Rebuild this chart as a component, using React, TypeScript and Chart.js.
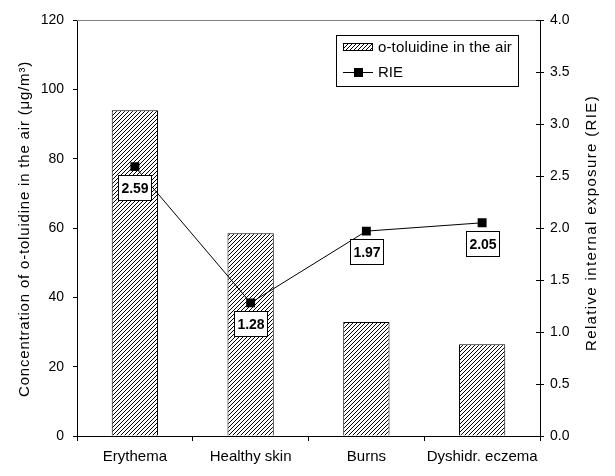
import React, { useEffect, useRef } from 'react';
import { Chart, registerables } from 'chart.js';

Chart.register(...registerables);

const categories = ['Erythema', 'Healthy skin', 'Burns', 'Dyshidr. eczema'];
const concentration = [94.0, 58.5, 32.9, 26.5];
const rie = [2.59, 1.28, 1.97, 2.05];
const rieLabels = ['2.59', '1.28', '1.97', '2.05'];
const barLabel = 'o-toluidine in the air';
const lineLabel = 'RIE';
const leftTitle = 'Concentration of o-toluidine in the air (\u03bcg/m\u00b3)';
const rightTitle = 'Relative internal exposure (RIE)';

const FONT = '"Liberation Sans", Arial, sans-serif';

function makeHatch(): CanvasPattern | string {
  const c = document.createElement('canvas');
  c.width = 4;
  c.height = 4;
  const g = c.getContext('2d');
  if (!g) return '#888';
  g.fillStyle = '#fff';
  g.fillRect(0, 0, 4, 4);
  g.fillStyle = '#000';
  for (let i = 0; i < 4; i++) g.fillRect(i, 3 - i, 1, 1);
  return g.createPattern(c, 'repeat') || '#888';
}

function fitText(ctx: any, text: string, x: number, y: number, target: number) {
  ctx.letterSpacing = '0px';
  const w = ctx.measureText(text).width;
  const ls = Math.max(0, (target - w) / text.length);
  ctx.letterSpacing = ls + 'px';
  ctx.fillText(text, x, y);
  ctx.letterSpacing = '0px';
}

export default function App() {
  const ref = useRef<HTMLCanvasElement | null>(null);

  useEffect(() => {
    if (!ref.current) return;
    const hatch = makeHatch();

    const decor = {
      id: 'decor',
      afterDatasetsDraw(chart: any) {
        const ctx = chart.ctx;
        const area = chart.chartArea;
        ctx.save();
        // top border (gray)
        ctx.strokeStyle = '#808080';
        ctx.lineWidth = 1;
        ctx.beginPath();
        ctx.moveTo(area.left, area.top + 0.5);
        ctx.lineTo(area.right, area.top + 0.5);
        ctx.stroke();

        // right axis inner ticks (cross ticks)
        const y1 = chart.scales.y1;
        ctx.strokeStyle = '#000';
        y1.ticks.forEach((t: any) => {
          const py = Math.round(y1.getPixelForValue(t.value)) + 0.5;
          ctx.beginPath();
          ctx.moveTo(area.right - 4, py);
          ctx.lineTo(area.right, py);
          ctx.stroke();
        });

        // value label boxes
        const meta = chart.getDatasetMeta(1);
        ctx.font = 'bold 14px ' + FONT;
        ctx.textAlign = 'center';
        ctx.textBaseline = 'middle';
        meta.data.forEach((pt: any, i: number) => {
          const w = 33;
          const h = 25;
          const bx = Math.round(pt.x - w / 2) + 0.5;
          const by = Math.round(pt.y + 8) + 0.5;
          ctx.fillStyle = '#fff';
          ctx.fillRect(bx, by, w, h);
          ctx.strokeStyle = '#000';
          ctx.strokeRect(bx, by, w, h);
          ctx.fillStyle = '#000';
          ctx.fillText(rieLabels[i], bx + w / 2, by + h / 2 + 1);
        });

        // legend
        const lx = 336.5, ly = 35.5, lw = 182, lh = 51;
        ctx.fillStyle = '#fff';
        ctx.fillRect(lx, ly, lw, lh);
        ctx.strokeStyle = '#000';
        ctx.strokeRect(lx, ly, lw, lh);
        ctx.fillStyle = hatch as any;
        ctx.fillRect(343, 43, 30, 8);
        ctx.strokeRect(343.5, 43.5, 29, 7);
        ctx.beginPath();
        ctx.moveTo(343, 72.5);
        ctx.lineTo(373, 72.5);
        ctx.stroke();
        ctx.fillStyle = '#000';
        ctx.fillRect(354, 68, 9, 9);
        ctx.font = '15px ' + FONT;
        ctx.textAlign = 'left';
        ctx.textBaseline = 'middle';
        fitText(ctx, barLabel, 378, 48, 134);
        fitText(ctx, lineLabel, 378, 73, 24);

        // axis titles
        ctx.textAlign = 'center';
        ctx.save();
        ctx.translate(25, 229);
        ctx.rotate(-Math.PI / 2);
        fitText(ctx, leftTitle, 0, 0, 336);
        ctx.restore();
        ctx.save();
        ctx.translate(592, 223);
        ctx.rotate(-Math.PI / 2);
        fitText(ctx, rightTitle, 0, 0, 256);
        ctx.restore();
        ctx.restore();
      },
    };

    const chart = new Chart(ref.current, {
      type: 'bar',
      data: {
        labels: categories,
        datasets: [
          {
            type: 'bar',
            label: barLabel,
            data: concentration,
            backgroundColor: hatch as any,
            borderColor: '#000',
            borderWidth: 1,
            barPercentage: 0.4,
            categoryPercentage: 1,
            yAxisID: 'y',
            order: 2,
          },
          {
            type: 'line',
            label: lineLabel,
            data: rie,
            borderColor: '#000',
            borderWidth: 1,
            backgroundColor: '#000',
            pointStyle: 'rect',
            pointRadius: 6.3,
            pointBorderWidth: 0,
            tension: 0,
            yAxisID: 'y1',
            order: 1,
          } as any,
        ],
      },
      options: {
        responsive: false,
        animation: false,
        devicePixelRatio: 1,
        layout: { padding: { top: 20, left: 0, right: 0, bottom: 0 } },
        plugins: { legend: { display: false }, tooltip: { enabled: false } },
        scales: {
          x: {
            offset: true,
            grid: { offset: true, drawOnChartArea: false, drawTicks: true, tickLength: 5, color: '#000' },
            border: { display: true, color: '#000' },
            ticks: { color: '#000', font: { family: FONT, size: 15 }, padding: 7, maxRotation: 0 },
            afterFit: (s: any) => { s.height = 40; },
          },
          y: {
            position: 'left',
            min: 0,
            max: 120,
            ticks: { stepSize: 20, color: '#000', font: { family: FONT, size: 14 }, padding: 9 },
            grid: { drawOnChartArea: false, drawTicks: true, tickLength: 4, color: '#000' },
            border: { display: true, color: '#000' },
            afterFit: (s: any) => { s.width = 77; },
          },
          y1: {
            position: 'right',
            min: 0,
            max: 4,
            ticks: {
              stepSize: 0.5,
              color: '#000',
              font: { family: FONT, size: 14 },
              padding: 6,
              callback: (v: any) => Number(v).toFixed(1),
            },
            grid: { drawOnChartArea: false, drawTicks: true, tickLength: 4, color: '#000' },
            border: { display: true, color: '#000' },
            afterFit: (s: any) => { s.width = 75; },
          },
        },
      } as any,
      plugins: [decor],
    });
    return () => chart.destroy();
  }, []);

  return (
    <div style={{ position: 'absolute', left: 0, top: 0, width: 615, height: 476, background: '#fff' }}>
      <canvas ref={ref} width={615} height={476} />
    </div>
  );
}
